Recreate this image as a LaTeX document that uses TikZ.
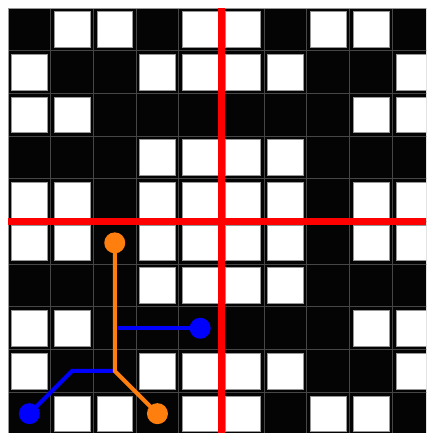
\documentclass[tikz,border=0pt]{standalone}
\usetikzlibrary{calc}
\definecolor{gridgray}{RGB}{70,70,70}
\definecolor{edgegray}{RGB}{150,150,150}
\definecolor{cellblack}{RGB}{4,4,4}
\definecolor{porange}{RGB}{255,127,14}
\definecolor{pblue}{RGB}{0,0,255}
\definecolor{pred}{RGB}{255,0,0}
\tikzset{
  blackcell/.style={fill=cellblack, draw=gridgray, line width=0.9pt},
  whitecell/.style={fill=white, draw=edgegray, line width=0.5pt},
  redline/.style={draw=pred, line width=7pt},
  orangepath/.style={draw=porange, line width=4pt},
  bluepath/.style={draw=pblue, line width=4pt},
  orangedot/.style={circle, fill=porange, minimum size=21pt, inner sep=0pt},
  bluedot/.style={circle, fill=pblue, minimum size=21pt, inner sep=0pt},
}
\begin{document}
\begin{tikzpicture}[x=1pt,y=-1pt]
\useasboundingbox (0,0) rectangle (426,433);
\fill[white] (0,0) rectangle (426,433);
\pgfmathsetmacro{\s}{42.7}
\pgfmathsetmacro{\o}{8}
\begin{scope}
\clip (0,0) rectangle (426,433);
\foreach \r/\pat in {
  0/{0,1,1,0,1,1,0,1,1,0},
  1/{1,0,0,1,1,1,1,0,0,1},
  2/{1,1,0,0,0,0,0,0,1,1},
  3/{0,0,0,1,1,1,1,0,0,0},
  4/{1,1,0,1,1,1,1,0,1,1},
  5/{1,1,0,1,1,1,1,0,1,1},
  6/{0,0,0,1,1,1,1,0,0,0},
  7/{1,1,0,0,0,0,0,0,1,1},
  8/{1,0,0,1,1,1,1,0,0,1},
  9/{0,1,1,0,1,1,0,1,1,0}}{
  \foreach \v [count=\cc from 0] in \pat {
    \pgfmathsetmacro{\xa}{\o+\cc*\s}
    \pgfmathsetmacro{\ya}{\o+\r*\s}
    \path[blackcell] (\xa,\ya) rectangle ++(\s,\s);
    \ifnum\v=1
      \path[whitecell] ($(\xa,\ya)+(3.5,3.5)$) rectangle ($(\xa,\ya)+(\s-3.5,\s-3.5)$);
    \fi
  }
}
\draw[edgegray, line width=0.8pt] (8,8) -- (426,8);
\draw[edgegray, line width=0.8pt] (8,8) -- (8,433);
% red axes
\coordinate (vtop) at (221.5,8);
\coordinate (vbot) at (221.5,433);
\coordinate (hleft) at (8,221.5);
\coordinate (hright) at (426,221.5);
\draw[redline] (vtop) -- (vbot);
\draw[redline] (hleft) -- (hright);
\end{scope}
% path positions
\coordinate (pb1) at (29.35,413.65);
\coordinate (pb2) at (200.15,328.25);
\coordinate (po1) at (114.75,242.85);
\coordinate (po2) at (157.45,413.65);
\coordinate (bk) at (72.05,370.95);
\coordinate (j) at (114.75,370.95);
\coordinate (bs) at (114.75,328.25);
\draw[bluepath] (pb1) -- (bk) -- (j);
\draw[bluepath] (bs) -- (pb2);
\node[bluedot] (b1) at (pb1) {};
\node[bluedot] (b2) at (pb2) {};
\draw[orangepath] (po1) -- (j) -- (po2);
\node[orangedot] (o1) at (po1) {};
\node[orangedot] (o2) at (po2) {};
\end{tikzpicture}
\end{document}
